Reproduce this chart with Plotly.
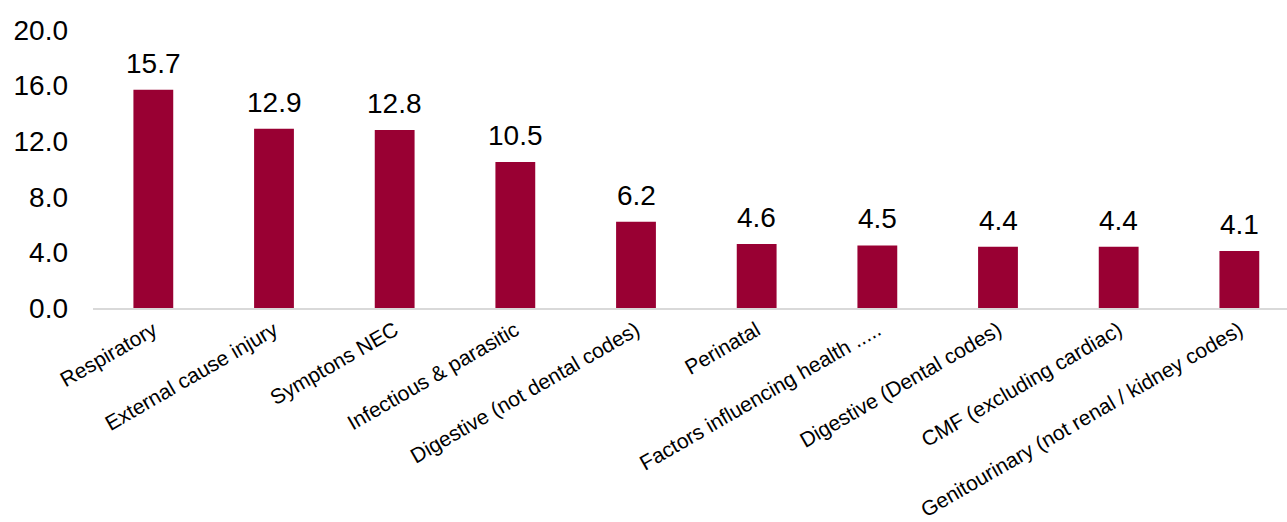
import plotly.graph_objects as go

categories = ["Respiratory", "External cause injury", "Symptons NEC", "Infectious & parasitic",
              "Digestive (not dental codes)", "Perinatal", "Factors influencing health .....",
              "Digestive (Dental codes)", "CMF (excluding cardiac)",
              "Genitourinary (not renal / kidney codes)"]
values = [15.7, 12.9, 12.8, 10.5, 6.2, 4.6, 4.5, 4.4, 4.4, 4.1]
y_ticks = [0, 4, 8, 12, 16, 20]
y_tick_labels = ["0.0", "4.0", "8.0", "12.0", "16.0", "20.0"]

fig = go.Figure()
fig.add_trace(go.Bar(
    x=categories, y=values,
    marker=dict(color="#990033", line=dict(width=0)),
    width=0.33,
))
for c, v in zip(categories, values):
    fig.add_annotation(x=c, y=v, text=f"{v:.1f}", showarrow=False,
                       yanchor="bottom", yshift=9,
                       font=dict(family="Liberation Sans, Arial", size=28, color="#000000"))

fig.update_layout(
    width=1287, height=522,
    margin=dict(l=93, r=0, t=30, b=214),
    plot_bgcolor="white", paper_bgcolor="white",
    showlegend=False,
    font=dict(family="Liberation Sans, Arial", color="#000000"),
)
fig.update_xaxes(
    range=[-0.5, 9.395],
    tickangle=-30,
    tickfont=dict(size=21, color="#000000"),
    showline=True, linecolor="#d9d9d9", linewidth=2,
    showgrid=False, ticks="",
)
fig.update_yaxes(
    range=[0, 20],
    tickvals=y_ticks, ticktext=y_tick_labels,
    tickfont=dict(size=28, color="#000000"),
    showgrid=False, zeroline=False, showline=False,
    ticks="", ticklabelstandoff=24,
)
fig.write_html("out.html")
